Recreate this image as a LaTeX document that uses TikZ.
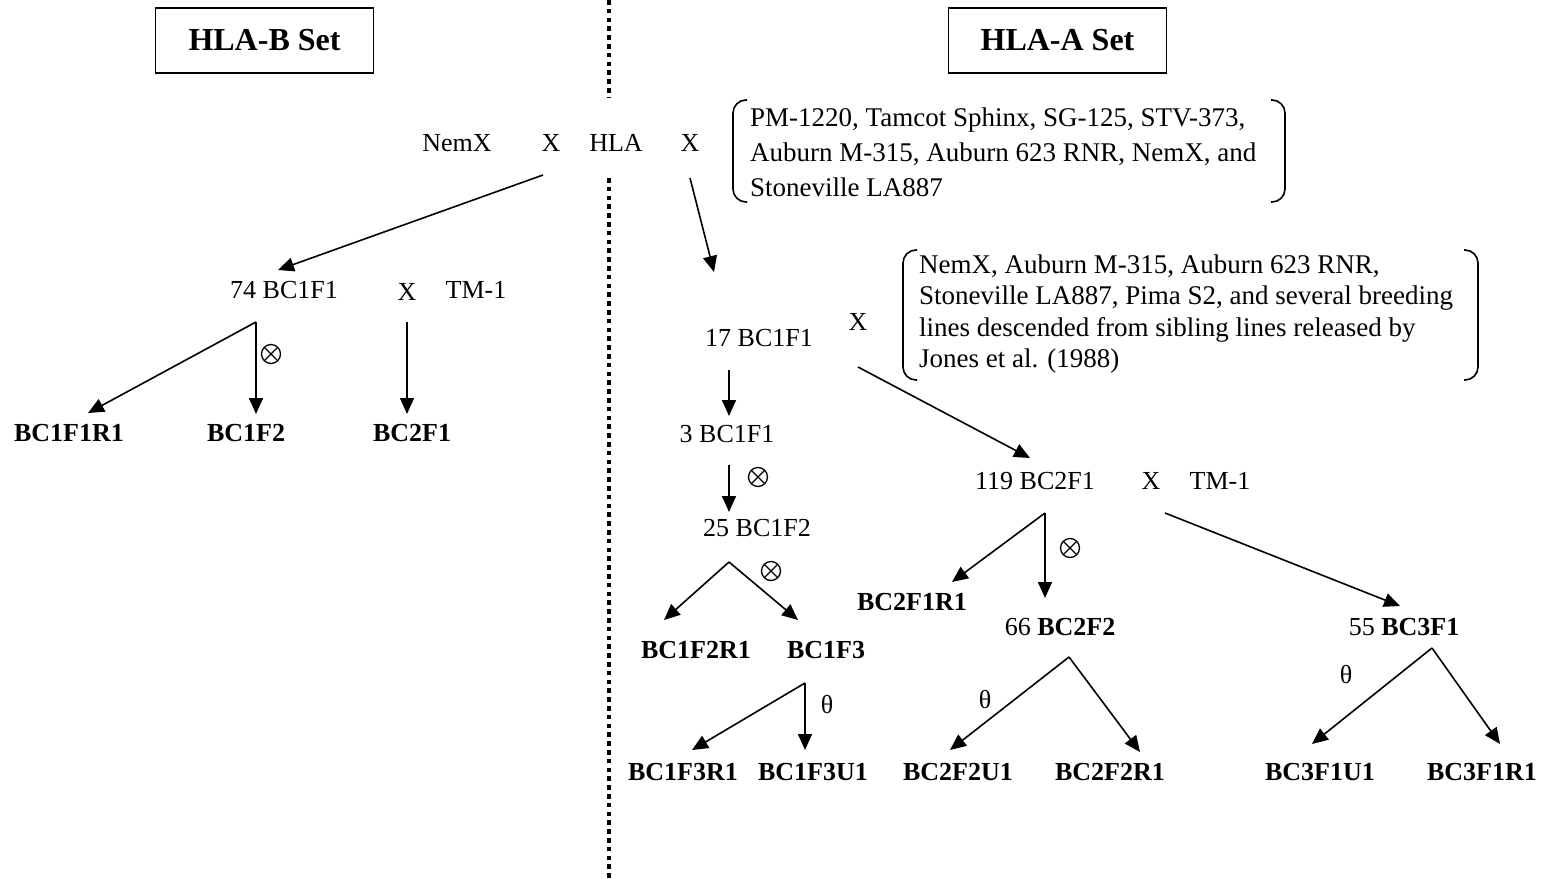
\documentclass[tikz,border=0pt]{standalone}
\usepackage{fontspec}
\setmainfont{Liberation Serif}
\usetikzlibrary{arrows.meta}
\tikzset{
  txt/.style={inner sep=0pt, font=\fontsize{26}{30}\selectfont},
  bld/.style={inner sep=0pt, font=\fontsize{26}{30}\selectfont\bfseries},
  head/.style={draw, line width=1.8pt, minimum width=218pt, minimum height=65pt, inner sep=0pt, font=\fontsize{32}{36}\selectfont\bfseries},
  arr/.style={line width=1.6pt, -{Triangle[length=16pt,width=14pt]}},
  brk/.style={line width=1.6pt, rounded corners=13pt},
  dots/.style={line width=4.5pt, dash pattern=on 4.5pt off 4.3pt},
  otimes/.style={circle, draw, line width=1.3pt, minimum size=19pt, inner sep=0pt,
    path picture={\draw[line width=1.3pt] ([shift={(-6.7pt,-6.7pt)}]path picture bounding box.center) -- ++(13.4pt,13.4pt);
                  \draw[line width=1.3pt] ([shift={(-6.7pt,6.7pt)}]path picture bounding box.center) -- ++(13.4pt,-13.4pt);}},
  sym/.style={inner sep=0pt, font=\fontsize{26}{30}\selectfont}
}
\begin{document}
\begin{tikzpicture}[x=1pt,y=-1pt]
\useasboundingbox (0,0) rectangle (1547,878);
% headings
\node[head] (hb) at (264.5,40.5) {HLA-B Set};
\node[head] (ha) at (1057.5,40.5) {HLA-A Set};
% divider
\coordinate (d1) at (609,0); \coordinate (d2) at (609,98);
\coordinate (d3) at (609,178); \coordinate (d4) at (609,878);
\draw[dots] (d1) -- (d2);
\draw[dots] (d3) -- (d4);
% top cross
\node[txt] (nemx) at (457,143) {NemX};
\node[txt] (x1) at (551,143) {X};
\node[txt] (hla) at (616,143) {HLA};
\node[txt] (x2) at (690,143) {X};
% bracket 1
\draw[brk] (747,100) -- (733,100) -- (733,202) -- (747,202);
\draw[brk] (1271,100) -- (1285,100) -- (1285,202) -- (1271,202);
\node[txt, font=\fontsize{27}{35}\selectfont, align=left, anchor=west] (b1) at (750,152)
  {PM-1220, Tamcot Sphinx, SG-125, STV-373,\\Auburn M-315, Auburn 623 RNR, NemX, and\\Stoneville LA887};
% bracket 2
\draw[brk] (917,250) -- (903,250) -- (903,380) -- (917,380);
\draw[brk] (1464,250) -- (1478,250) -- (1478,380) -- (1464,380);
\node[txt, font=\fontsize{27}{31.5}\selectfont, align=left, anchor=west] (b2) at (919,314)
  {NemX, Auburn M-315, Auburn 623 RNR,\\Stoneville LA887, Pima S2, and several breeding\\lines descended from sibling lines released by\\Jones et al. (1988)};
% left side
\coordinate (c1s) at (543,175); \coordinate (c1e) at (278,270);
\draw[arr] (c1s) -- (c1e);
\node[txt] (n74) at (284,290) {74 BC1F1};
\node[txt] (x3) at (407,292) {X};
\node[txt] (tm1a) at (476,290) {TM-1};
\coordinate (f74) at (256,322);
\coordinate (e1) at (88,413); \coordinate (e2) at (256,414);
\draw[arr] (f74) -- (e1);
\draw[arr] (f74) -- (e2);
\node[otimes] (o1) at (271,354) {};
\coordinate (f74b) at (407,322); \coordinate (e3) at (407,414);
\draw[arr] (f74b) -- (e3);
\node[bld] (l1) at (69,433) {BC1F1R1};
\node[bld] (l2) at (246,433) {BC1F2};
\node[bld] (l3) at (412,433) {BC2F1};
% right side
\coordinate (c2s) at (690,178); \coordinate (c2e) at (714,272);
\draw[arr] (c2s) -- (c2e);
\node[txt] (n17) at (759,338) {17 BC1F1};
\node[txt] (x4) at (858,322) {X};
\coordinate (a1s) at (729,370); \coordinate (a1e) at (729,416);
\draw[arr] (a1s) -- (a1e);
\node[txt] (n3) at (727,434) {3 BC1F1};
\coordinate (a2s) at (729,465); \coordinate (a2e) at (729,512);
\draw[arr] (a2s) -- (a2e);
\node[otimes] (o2) at (758,477) {};
\node[txt] (n25) at (757,528) {25 BC1F2};
\coordinate (f25) at (729,562);
\coordinate (e4) at (664,620); \coordinate (e5) at (798,620);
\draw[arr] (f25) -- (e4);
\draw[arr] (f25) -- (e5);
\node[otimes] (o3) at (771,571) {};
\node[bld] (l4) at (696,650) {BC1F2R1};
\node[bld] (l5) at (826,650) {BC1F3};
\coordinate (f3) at (805,683);
\coordinate (e6) at (692,750); \coordinate (e7) at (805,750);
\draw[arr] (f3) -- (e6);
\draw[arr] (f3) -- (e7);
\node[sym] (t1) at (827,705) {θ};
\node[bld] (l6) at (683,772) {BC1F3R1};
\node[bld] (l7) at (813,772) {BC1F3U1};
% 119 branch
\coordinate (a3s) at (858,367); \coordinate (a3e) at (1030,458);
\draw[arr] (a3s) -- (a3e);
\node[txt] (n119) at (1035,481) {119 BC2F1};
\node[txt] (x5) at (1151,481) {X};
\node[txt] (tm1b) at (1220,481) {TM-1};
\coordinate (f119) at (1045,513);
\coordinate (e8) at (952,582); \coordinate (e9) at (1045,598);
\draw[arr] (f119) -- (e8);
\draw[arr] (f119) -- (e9);
\node[otimes] (o4) at (1070,548) {};
\coordinate (f119b) at (1165,513); \coordinate (e10) at (1400,606);
\draw[arr] (f119b) -- (e10);
\node[bld] (l8) at (912,602) {BC2F1R1};
\node[txt] (n66) at (1060,627) {66 \textbf{BC2F2}};
\node[txt] (n55) at (1404,627) {55 \textbf{BC3F1}};
\coordinate (f66) at (1069,657);
\coordinate (e11) at (950,750); \coordinate (e12) at (1140,752);
\draw[arr] (f66) -- (e11);
\draw[arr] (f66) -- (e12);
\node[sym] (t2) at (985,700) {θ};
\coordinate (f55) at (1432,648);
\coordinate (e13) at (1312,744); \coordinate (e14) at (1500,744);
\draw[arr] (f55) -- (e13);
\draw[arr] (f55) -- (e14);
\node[sym] (t3) at (1346,675) {θ};
\node[bld] (l9) at (958,772) {BC2F2U1};
\node[bld] (l10) at (1110,772) {BC2F2R1};
\node[bld] (l11) at (1320,772) {BC3F1U1};
\node[bld] (l12) at (1482,772) {BC3F1R1};
\end{tikzpicture}
\end{document}
